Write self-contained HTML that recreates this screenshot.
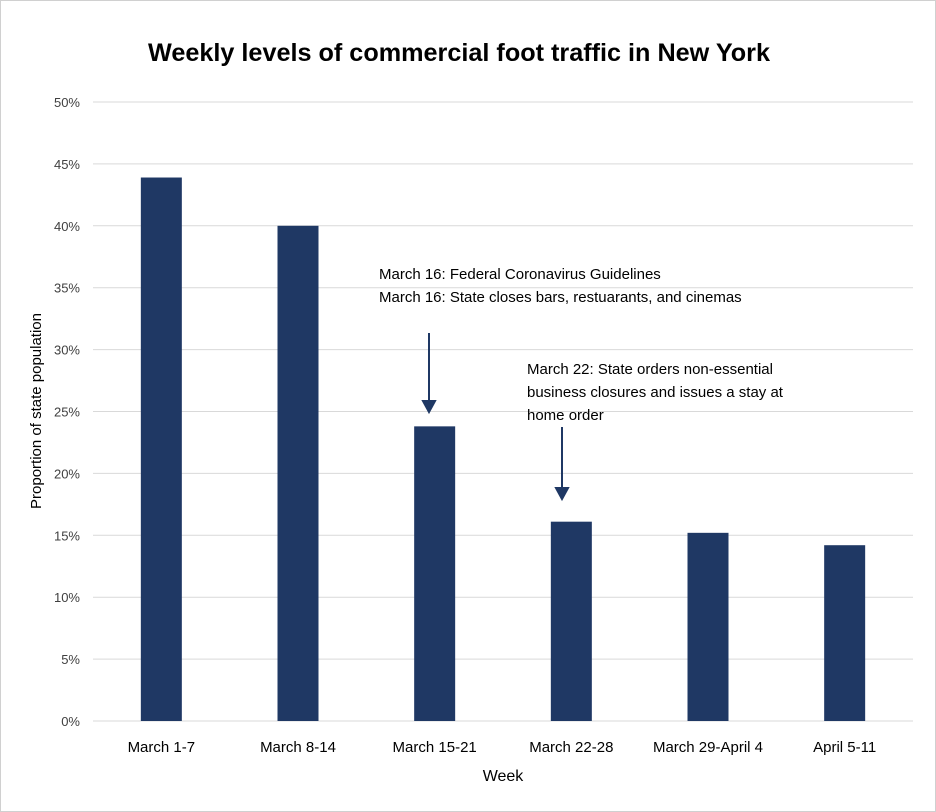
<!DOCTYPE html>
<html><head><meta charset="utf-8"><style>
body{margin:0;background:#fff}
svg{display:block;font-family:"Liberation Sans",Calibri,sans-serif}
</style></head><body>
<svg width="936" height="812">
<rect x="0.5" y="0.5" width="935" height="811" fill="#fff" stroke="#d0d0d0"/>
<text x="459" y="61" text-anchor="middle" font-size="25" font-weight="bold" textLength="622" lengthAdjust="spacingAndGlyphs">Weekly levels of commercial foot traffic in New York</text>
<g id="grid"></g><g id="bars"></g><g id="xlabels"></g>
<text transform="translate(41,411) rotate(-90)" text-anchor="middle" font-size="15">Proportion of state population</text>
<text x="503" y="781" text-anchor="middle" font-size="16">Week</text>
<g font-size="15">
<text x="379" y="279">March 16: Federal Coronavirus Guidelines</text>
<text x="379" y="302">March 16: State closes bars, restuarants, and cinemas</text>
</g>
<g font-size="15">
<text x="527" y="374">March 22: State orders non-essential</text>
<text x="527" y="397">business closures and issues a stay at</text>
<text x="527" y="420">home order</text>
</g>
<g stroke="#1f3864" stroke-width="2" fill="#1f3864">
<line x1="429" y1="333" x2="429" y2="402"/>
<polygon points="423,401 435,401 429,412"/>
<line x1="562" y1="427" x2="562" y2="488"/>
<polygon points="556,488 568,488 562,499"/>
</g>
</svg>
<script>
const categories=["March 1-7","March 8-14","March 15-21","March 22-28","March 29-April 4","April 5-11"];
const values=[43.9,40.0,23.8,16.1,15.2,14.2];
const yTicks=[0,5,10,15,20,25,30,35,40,45,50];
const ns="http://www.w3.org/2000/svg";
const L=93,R=913,Y0=721,Y50=102;
const y=v=>Y0-(v/50)*(Y0-Y50);
const step=(R-L)/categories.length;
const xc=i=>L+step*(i+0.5);
function mk(t,a,p){const e=document.createElementNS(ns,t);for(const k in a)e.setAttribute(k,a[k]);p.appendChild(e);return e;}
const grid=document.getElementById('grid');
yTicks.forEach(t=>{
 const l=mk('line',{x1:L,x2:R,y1:y(t),y2:y(t),stroke:'#d9d9d9','stroke-width':1},grid);
 
 
 const tx=mk('text',{x:80,y:y(t)+5,'text-anchor':'end','font-size':13,fill:'#404040'},grid);
 tx.textContent=t+'%';
 
 
});
const bars=document.getElementById('bars'),xl=document.getElementById('xlabels');
values.forEach((v,i)=>{
 const r=mk('rect',{x:xc(i)-20.5,y:y(v),width:41,height:Y0-y(v),fill:'#1f3864'},bars);
 
 
 const t=mk('text',{x:xc(i),y:752,'text-anchor':'middle','font-size':15},xl);
 t.textContent=categories[i];
 
 
});
</script>
</body></html>
